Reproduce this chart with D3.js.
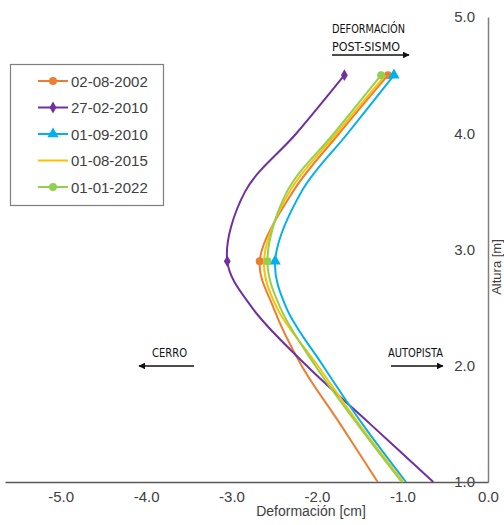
<!DOCTYPE html>
<html>
<head>
<meta charset="utf-8">
<script src="https://cdn.jsdelivr.net/npm/d3@7"></script>
<style>
  html, body { margin: 0; padding: 0; background: #fff; }
  svg { display: block; }
  .tick text { font-family: "Liberation Sans", Arial, sans-serif; fill: #404040; }
  .note { font-family: "Liberation Sans Narrow", "DejaVu Sans Condensed", sans-serif; fill: #111; }
</style>
</head>
<body>
<svg id="chart" width="504" height="525"></svg>
<script>
// Heights (m) at which the deformation profile is sampled
const heights = [1.0, 1.5, 2.0, 2.5, 2.9, 3.5, 4.0, 4.5];

// Deformation (cm) per survey date
const def_02_08_2002 = [-1.29, -1.73, -2.18, -2.51, -2.67, -2.28, -1.74, -1.17];
const def_27_02_2010 = [-0.64, -1.38, -2.12, -2.76, -3.05, -2.84, -2.24, -1.68];
const def_01_09_2010 = [-0.96, -1.47, -1.93, -2.36, -2.49, -2.18, -1.64, -1.10];
const def_01_08_2015 = [-0.99, -1.51, -1.99, -2.47, -2.62, -2.32, -1.77, -1.20];
const def_01_01_2022 = [-1.01, -1.53, -2.02, -2.43, -2.58, -2.35, -1.80, -1.25];

const seriesNames = ["02-08-2002", "27-02-2010", "01-09-2010", "01-08-2015", "01-01-2022"];
const seriesValues = [def_02_08_2002, def_27_02_2010, def_01_09_2010, def_01_08_2015, def_01_01_2022];
const seriesColors = ["#ED7D31", "#7030A0", "#00B0F0", "#FFC000", "#92D050"];
const seriesMarkers = ["circle", "diamond", "triangle", "none", "circle"];

// Heights where point markers are shown
const markerHeights = [2.9, 4.5];

// Axis ticks
const xTicks = [-5, -4, -3, -2, -1, 0];
const yTicks = [1, 2, 3, 4, 5];

const svg = d3.select("#chart");

const x = d3.scaleLinear().domain([-5.65, 0]).range([5, 488]);
const y = d3.scaleLinear().domain([1, 5]).range([482, 17]);

// Y axis (labels to the left of the axis line at x = 0)
const yAxis = svg.append("g")
  .attr("transform", `translate(${x(0)},0)`)
  .call(d3.axisLeft(y).tickValues(yTicks).tickFormat(d => d.toFixed(1))
    .tickSize(0).tickPadding(13));
yAxis.select(".domain").attr("stroke", "#7f7f7f").attr("stroke-width", 1.5);
yAxis.selectAll(".tick text").style("font-size", "15px");

svg.append("text")
  .attr("transform", `translate(501,267) rotate(-90)`)
  .attr("text-anchor", "middle")
  .style("font-family", "'Liberation Sans', Arial, sans-serif")
  .style("font-size", "13px")
  .attr("fill", "#404040")
  .text("Altura [m]");

// X axis
const xAxis = svg.append("g")
  .attr("transform", `translate(0,${y(1)})`)
  .call(d3.axisBottom(x).tickValues(xTicks).tickFormat(d => d.toFixed(1))
    .tickSize(0).tickSizeOuter(0).tickPadding(9));
xAxis.select(".domain").attr("stroke", "#595959").attr("stroke-width", 1.5);
xAxis.selectAll(".tick text").style("font-size", "15px");

svg.append("text")
  .attr("x", 311).attr("y", 516)
  .attr("text-anchor", "middle")
  .style("font-family", "'Liberation Sans', Arial, sans-serif")
  .style("font-size", "14px")
  .attr("fill", "#404040")
  .text("Deformación [cm]");

// Deformation profiles
const line = d3.line()
  .x(d => x(d.v))
  .y(d => y(d.h))
  .curve(d3.curveCatmullRom.alpha(0.5));

const symbolFor = {
  circle: d3.symbol().type(d3.symbolCircle).size(50),
  diamond: d3.symbol().type(d3.symbolDiamond).size(40),
  triangle: d3.symbol().type(d3.symbolTriangle).size(55)
};

seriesNames.forEach((name, i) => {
  const pts = heights.map((h, k) => ({ h, v: seriesValues[i][k] }));
  svg.append("path")
    .datum(pts)
    .attr("fill", "none")
    .attr("stroke", seriesColors[i])
    .attr("stroke-width", 2)
    .attr("d", line);
  if (seriesMarkers[i] !== "none") {
    const mk = pts.filter(p => markerHeights.includes(p.h));
    svg.selectAll(null).data(mk).enter().append("path")
      .attr("transform", d => `translate(${x(d.v)},${y(d.h)})`)
      .attr("d", symbolFor[seriesMarkers[i]]())
      .attr("fill", seriesColors[i]);
  }
});

// Legend
const legend = svg.append("g");
legend.append("rect")
  .attr("x", 10.5).attr("y", 64.5).attr("width", 153).attr("height", 141)
  .attr("fill", "#fff").attr("stroke", "#7f7f7f").attr("stroke-width", 1.2);
seriesNames.forEach((name, i) => {
  const ly = 81 + i * 26.5;
  legend.append("line")
    .attr("x1", 38).attr("x2", 68).attr("y1", ly).attr("y2", ly)
    .attr("stroke", seriesColors[i]).attr("stroke-width", 2);
  if (seriesMarkers[i] !== "none") {
    legend.append("path")
      .attr("transform", `translate(53,${ly})`)
      .attr("d", symbolFor[seriesMarkers[i]]())
      .attr("fill", seriesColors[i]);
  }
  legend.append("text")
    .attr("x", 71).attr("y", ly + 5.5)
    .style("font-family", "'Liberation Sans', Arial, sans-serif")
    .style("font-size", "15px")
    .attr("fill", "#404040")
    .text(name);
});

// Direction notes with arrows
const defs = svg.append("defs");
defs.append("marker")
  .attr("id", "arrowHead")
  .attr("viewBox", "0 0 10 10")
  .attr("refX", 9).attr("refY", 5)
  .attr("markerWidth", 7).attr("markerHeight", 7)
  .attr("markerUnits", "userSpaceOnUse")
  .attr("orient", "auto")
  .append("path").attr("d", "M0,0L10,5L0,10Z").attr("fill", "#111");

function note(lines, x0, y0, width, ax1, ax2, ay) {
  lines.forEach((t, k) => {
    svg.append("text").attr("class", "note")
      .attr("x", x0).attr("y", y0 + k * 18)
      .style("font-size", "13px")
      .attr("textLength", width[k]).attr("lengthAdjust", "spacingAndGlyphs")
      .text(t);
  });
  svg.append("line")
    .attr("x1", ax1).attr("x2", ax2).attr("y1", ay).attr("y2", ay)
    .attr("stroke", "#111").attr("stroke-width", 1.4)
    .attr("marker-end", "url(#arrowHead)");
}

note(["DEFORMACIÓN", "POST-SISMO"], 332, 33, [73, 68], 332, 409, 55);
note(["CERRO"], 152, 357, [35], 194, 139, 366);
note(["AUTOPISTA"], 388, 357, [55], 391, 443, 366);
</script>
</body>
</html>
